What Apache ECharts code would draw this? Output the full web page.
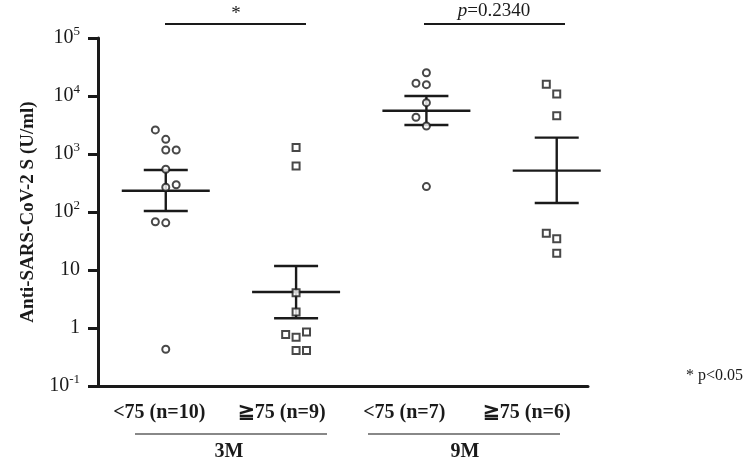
<!DOCTYPE html>
<html>
<head>
<meta charset="utf-8">
<script src="https://cdn.jsdelivr.net/npm/echarts@6/dist/echarts.min.js"></script>
<style>
  html, body { margin: 0; padding: 0; background: #fff; }
  #chart { width: 750px; height: 460px; }
</style>
</head>
<body>
<div id="chart"></div>
<script>
// group labels along the x axis
const groups = ['<75 (n=10)', '≧75 (n=9)', '<75 (n=7)', '≧75 (n=6)'];

// individual values (U/ml) with their x position (group index + jitter)
const g1X = [0.92, 1, 1, 1.08, 1, 1, 1.08, 0.92, 1, 1];
const g1Y = [2600, 1790, 1170, 1170, 545, 267, 295, 68, 65, 0.43];
const g2X = [2, 2, 2, 2, 1.92, 2, 2.08, 2, 2.08];
const g2Y = [1300, 620, 4.06, 1.89, 0.77, 0.69, 0.85, 0.41, 0.41];
const g3X = [3, 2.92, 3, 3, 2.92, 3, 3];
const g3Y = [25200, 16600, 15700, 7680, 4300, 3040, 274];
const g4X = [3.92, 4, 4, 3.92, 4, 4];
const g4Y = [15900, 10800, 4570, 43, 34.7, 19.4];

// mean and SE bounds per group
const means = [233, 4.18, 5580, 516];
const seLow = [104, 1.47, 3160, 143];
const seHigh = [530, 11.7, 10000, 1915];

const serif = "'Liberation Serif', 'Times New Roman', serif";
const ink = '#1a1a1a';

const pts = (xs, ys) => xs.map((x, i) => [x, ys[i]]);
const bars = means.map((m, i) => [i + 1, m, seLow[i], seHigh[i]]);

const chart = echarts.init(document.getElementById('chart'));

function scatter(data, symbol) {
  return {
    type: 'scatter',
    data: data,
    symbol: symbol,
    symbolSize: 7,
    z: 3,
    itemStyle: { color: '#fff', borderColor: ink, borderWidth: 2 },
    emphasis: { disabled: true }
  };
}

const option = {
  backgroundColor: '#fff',
  animation: false,
  grid: { left: 98, right: 162, top: 38, bottom: 74 },
  xAxis: [
    {
      type: 'value', min: 0.48, max: 4.24,
      axisLine: { show: true, lineStyle: { color: ink, width: 3 } },
      axisTick: { show: false }, axisLabel: { show: false }, splitLine: { show: false }
    },
    {
      type: 'category', position: 'bottom', data: groups,
      axisLine: { show: false }, axisTick: { show: false }, splitLine: { show: false },
      axisLabel: { margin: 17, fontFamily: serif, fontWeight: 'bold', fontSize: 20, color: ink }
    }
  ],
  yAxis: {
    type: 'log', logBase: 10, min: 0.1, max: 100000,
    name: 'Anti-SARS-CoV-2 S (U/ml)',
    nameLocation: 'middle', nameGap: 60, nameRotate: 90,
    nameTextStyle: { fontFamily: serif, fontWeight: 'bold', fontSize: 19, color: ink },
    axisLine: { show: true, lineStyle: { color: ink, width: 3 } },
    axisTick: { show: true, length: 10, lineStyle: { color: ink, width: 3 } },
    splitLine: { show: false },
    axisLabel: {
      margin: 18, fontFamily: serif, fontSize: 20, color: ink,
      formatter: function (v) {
        const e = Math.round(Math.log10(v));
        if (e === 0) return '1';
        if (e === 1) return '10';
        return '10{sup|' + e + '}';
      },
      rich: {
        sup: { fontFamily: serif, fontSize: 13, color: ink, verticalAlign: 'top', padding: [0, 0, 12, 0] }
      }
    }
  },
  series: [
    {
      type: 'custom',
      data: bars,
      encode: { x: 0, y: [1, 2, 3] },
      z: 2,
      renderItem: function (params, api) {
        const x = api.value(0);
        const m = api.coord([x, api.value(1)]);
        const lo = api.coord([x, api.value(2)]);
        const hi = api.coord([x, api.value(3)]);
        const st = { stroke: ink, lineWidth: 2.4 };
        return {
          type: 'group',
          children: [
            { type: 'line', shape: { x1: m[0] - 44, y1: m[1], x2: m[0] + 44, y2: m[1] }, style: st },
            { type: 'line', shape: { x1: lo[0], y1: lo[1], x2: hi[0], y2: hi[1] }, style: st },
            { type: 'line', shape: { x1: hi[0] - 22, y1: hi[1], x2: hi[0] + 22, y2: hi[1] }, style: st },
            { type: 'line', shape: { x1: lo[0] - 22, y1: lo[1], x2: lo[0] + 22, y2: lo[1] }, style: st }
          ]
        };
      }
    },
    scatter(pts(g1X, g1Y), 'circle'),
    scatter(pts(g2X, g2Y), 'rect'),
    scatter(pts(g3X, g3Y), 'circle'),
    scatter(pts(g4X, g4Y), 'rect')
  ],
  graphic: [
    // significance brackets
    { type: 'line', shape: { x1: 165, y1: 24, x2: 306, y2: 24 }, style: { stroke: ink, lineWidth: 1.8 } },
    { type: 'text', x: 236, y: 14, style: { text: '*', font: '19px ' + serif, fill: ink, align: 'center', verticalAlign: 'middle' } },
    { type: 'line', shape: { x1: 424, y1: 24, x2: 565, y2: 24 }, style: { stroke: ink, lineWidth: 1.8 } },
    {
      type: 'text', x: 494, y: 11,
      style: {
        text: '{i|p}=0.2340', font: '19px ' + serif, fill: ink, align: 'center', verticalAlign: 'middle',
        rich: { i: { fontStyle: 'italic', fontFamily: serif, fontSize: 19, fill: ink } }
      }
    },
    // time point groups
    { type: 'line', shape: { x1: 135, y1: 434, x2: 327, y2: 434 }, style: { stroke: '#888', lineWidth: 2 } },
    { type: 'line', shape: { x1: 368, y1: 434, x2: 560, y2: 434 }, style: { stroke: '#888', lineWidth: 2 } },
    { type: 'text', x: 229, y: 452, style: { text: '3M', font: 'bold 20px ' + serif, fill: ink, align: 'center', verticalAlign: 'middle' } },
    { type: 'text', x: 465, y: 452, style: { text: '9M', font: 'bold 20px ' + serif, fill: ink, align: 'center', verticalAlign: 'middle' } },
    { type: 'text', x: 686, y: 376, style: { text: '* p<0.05', font: '16px ' + serif, fill: ink, align: 'left', verticalAlign: 'middle' } }
  ]
};

chart.setOption(option);
</script>
</body>
</html>
